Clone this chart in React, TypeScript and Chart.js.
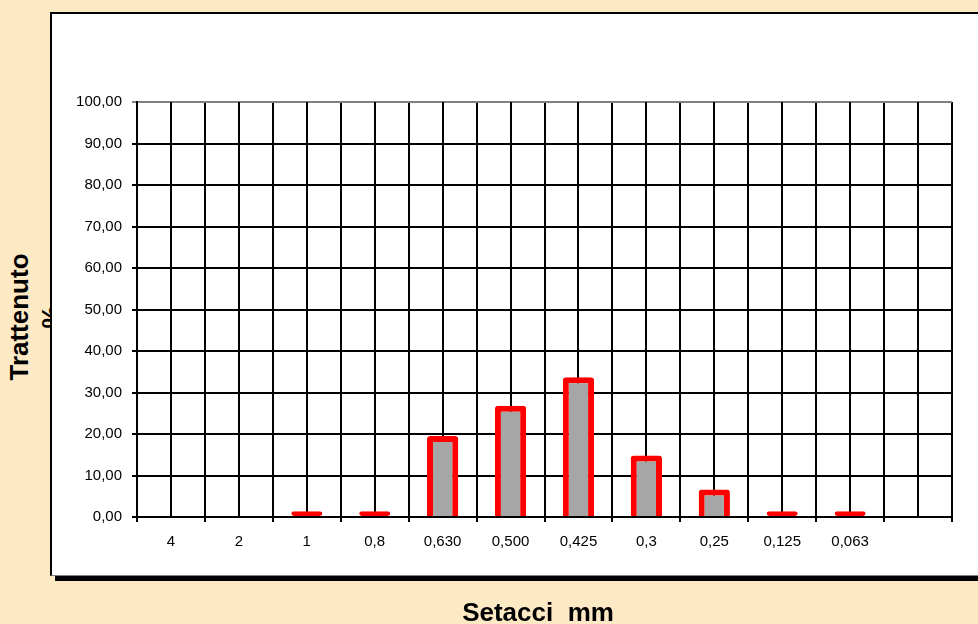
import React, { useEffect, useRef } from "react";
import { Chart, registerables } from "chart.js";

Chart.register(...registerables);

const categories = ["4", "2", "1", "0,8", "0,630", "0,500", "0,425", "0,3", "0,25", "0,125", "0,063", ""];
const trattenuto = [0, 0, 1.4, 1.4, 19.5, 26.8, 33.7, 14.8, 6.6, 1.4, 1.4, null];
const yMin = 0;
const yMax = 100;
const yStep = 10;
const xTitle = "Setacci  mm";
const yTitle = "Trattenuto";
const yTitleUnit = "%";

const FONT = "'Liberation Sans', Arial, Helvetica, sans-serif";

const centerLines = {
  id: "centerLines",
  beforeDatasetsDraw(chart: any) {
    const { ctx, chartArea, scales } = chart;
    const xs = scales.x;
    ctx.save();
    ctx.strokeStyle = "#000000";
    ctx.lineWidth = 2;
    for (let i = 0; i < categories.length; i++) {
      const x = Math.round(xs.getPixelForValue(i));
      ctx.beginPath();
      ctx.moveTo(x, chartArea.top);
      ctx.lineTo(x, chartArea.bottom);
      ctx.stroke();
    }
    ctx.restore();
  },
};

export default function App() {
  const ref = useRef<HTMLCanvasElement | null>(null);

  useEffect(() => {
    if (!ref.current) return;
    const chart = new Chart(ref.current, {
      type: "bar",
      data: {
        labels: categories,
        datasets: [
          {
            data: trattenuto as any,
            backgroundColor: "#A6A6A6",
            borderColor: "#FF0000",
            borderWidth: 6,
            borderRadius: 3,
            borderSkipped: ((ctx: any) => (ctx.raw !== null && ctx.raw < 3 ? false : "start")) as any,
            barPercentage: 0.46,
            categoryPercentage: 1,
          },
        ],
      },
      options: {
        responsive: false,
        animation: false,
        layout: { padding: { top: 102, right: 26, bottom: 0, left: 0 } },
        plugins: {
          legend: { display: false },
          tooltip: { enabled: false },
          title: { display: false },
        },
        scales: {
          x: {
            afterFit: (s: any) => {
              s.height = 107;
            },
            grid: {
              offset: true,
              color: (ctx: any) => (ctx.index === categories.length ? "#808080" : "#000000"),
              lineWidth: 2,
              tickLength: 5,
              drawTicks: true,
            },
            border: { display: true, color: "#000000", width: 2 },
            ticks: {
              color: "#000000",
              font: { family: FONT, size: 15 },
              padding: 11,
              maxRotation: 0,
              autoSkip: false,
            },
          },
          y: {
            min: yMin,
            max: yMax,
            afterFit: (s: any) => {
              s.width = 137;
            },
            grid: {
              color: (ctx: any) => (ctx.tick && ctx.tick.value === yMax ? "#808080" : "#000000"),
              lineWidth: 2,
              tickLength: 5,
            },
            border: { display: true, color: "#000000", width: 2 },
            ticks: {
              stepSize: yStep,
              color: "#000000",
              font: { family: FONT, size: 15 },
              padding: 10,
              callback: (v: any) => Number(v).toFixed(2).replace(".", ","),
            },
          },
        },
      },
      plugins: [centerLines],
    });
    return () => chart.destroy();
  }, []);

  return (
    <div
      style={{
        position: "absolute",
        left: 0,
        top: 0,
        width: 978,
        height: 624,
        background: "#FEE9C5",
        overflow: "hidden",
        fontFamily: FONT,
      }}
    >
      <div
        style={{
          position: "absolute",
          left: 35 - 100,
          top: 317 - 32,
          width: 200,
          height: 64,
          lineHeight: "32px",
          fontSize: 26,
          fontWeight: "bold",
          color: "#000",
          textAlign: "center",
          transform: "rotate(-90deg)",
          whiteSpace: "nowrap",
        }}
      >
        {yTitle}
        <br />
        {yTitleUnit}
      </div>
      <div
        style={{
          position: "absolute",
          left: 50,
          top: 12,
          width: 960,
          height: 561,
          background: "#FFFFFF",
          borderTop: "2px solid #000",
          borderLeft: "2px solid #000",
          borderBottom: "1px solid #808080",
          boxShadow: "5px 5px 0 #000",
        }}
      />
      <canvas
        ref={ref}
        width={978}
        height={624}
        style={{ position: "absolute", left: 0, top: 0, width: 978, height: 624 }}
      />
      <div
        style={{
          position: "absolute",
          left: 538 - 150,
          top: 599,
          width: 300,
          lineHeight: "26px",
          fontSize: 26,
          fontWeight: "bold",
          color: "#000",
          textAlign: "center",
          whiteSpace: "pre",
        }}
      >
        {xTitle}
      </div>
    </div>
  );
}
